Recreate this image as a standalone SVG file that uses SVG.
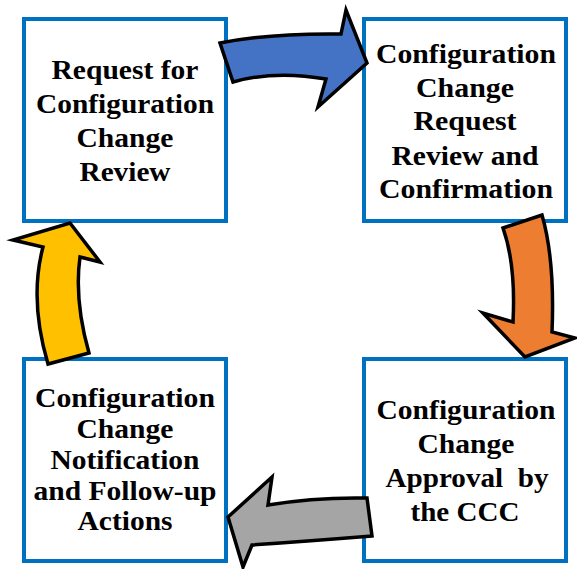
<svg xmlns="http://www.w3.org/2000/svg" width="577" height="569" viewBox="0 0 577 569">
  <style>
    .box { fill: #ffffff; stroke: #0070C0; stroke-width: 4; }
    .lbl { font-family: "Liberation Serif", "Times New Roman", serif; font-weight: bold; font-size: 27px; fill: #000000; text-anchor: middle; white-space: pre; }
    .arrow { stroke: #000000; stroke-width: 3.5; stroke-linejoin: miter; stroke-miterlimit: 8; }
  </style>
  <rect width="577" height="569" fill="#ffffff"/>

  <!-- step 1 -->
  <g id="request">
    <rect class="box" x="24" y="19" width="202" height="202"/>
    <text class="lbl" x="125" y="79" textLength="147" lengthAdjust="spacingAndGlyphs">Request for</text>
    <text class="lbl" x="125" y="113" textLength="178" lengthAdjust="spacingAndGlyphs">Configuration</text>
    <text class="lbl" x="125" y="147" textLength="97" lengthAdjust="spacingAndGlyphs">Change</text>
    <text class="lbl" x="125" y="181" textLength="91" lengthAdjust="spacingAndGlyphs">Review</text>
  </g>

  <!-- step 2 -->
  <g id="review">
    <rect class="box" x="364" y="19" width="202" height="202"/>
    <text class="lbl" x="466" y="63" textLength="180" lengthAdjust="spacingAndGlyphs">Configuration</text>
    <text class="lbl" x="465" y="97" textLength="98" lengthAdjust="spacingAndGlyphs">Change</text>
    <text class="lbl" x="465" y="130" textLength="103" lengthAdjust="spacingAndGlyphs">Request</text>
    <text class="lbl" x="465" y="165" textLength="147" lengthAdjust="spacingAndGlyphs">Review and</text>
    <text class="lbl" x="466" y="198" textLength="174" lengthAdjust="spacingAndGlyphs">Confirmation</text>
  </g>

  <!-- step 3 -->
  <g id="approval">
    <rect class="box" x="364" y="359" width="202" height="202"/>
    <text class="lbl" x="466" y="419" textLength="179" lengthAdjust="spacingAndGlyphs">Configuration</text>
    <text class="lbl" x="466" y="453" textLength="97" lengthAdjust="spacingAndGlyphs">Change</text>
    <text class="lbl" x="467" y="487" textLength="163" lengthAdjust="spacingAndGlyphs">Approval  by</text>
    <text class="lbl" x="465" y="521" textLength="109" lengthAdjust="spacingAndGlyphs">the CCC</text>
  </g>

  <!-- step 4 -->
  <g id="notification">
    <rect class="box" x="24" y="359" width="202" height="202"/>
    <text class="lbl" x="125" y="407" textLength="180" lengthAdjust="spacingAndGlyphs">Configuration</text>
    <text class="lbl" x="125" y="438" textLength="97" lengthAdjust="spacingAndGlyphs">Change</text>
    <text class="lbl" x="125" y="469" textLength="149" lengthAdjust="spacingAndGlyphs">Notification</text>
    <text class="lbl" x="125" y="500" textLength="183" lengthAdjust="spacingAndGlyphs">and Follow-up</text>
    <text class="lbl" x="125" y="530" textLength="95" lengthAdjust="spacingAndGlyphs">Actions</text>
  </g>

  <!-- curved block arrows linking the steps clockwise -->
  <g id="connectors">
    <path class="arrow" fill="#4472C4" d="M 220,43 Q 270,33 341,34 L 346,10 L 367,63 L 318,107 L 326,79 Q 275,70 233,82 Z"/>
    <path class="arrow" fill="#ED7D31" d="M 503,228 L 542,215 Q 555,260 552,332 L 575,338 L 525,357 L 483,313 L 513,322 Q 516,265 503,228 Z"/>
    <path class="arrow" fill="#A5A5A5" d="M 367,498 Q 315,497 268,505 L 272,477 L 228,517 L 243,567 L 252,545 Q 310,541 372,536 Z"/>
    <path class="arrow" fill="#FFC000" d="M 70,223 L 100,262 L 80,257 Q 74,300 89,353 L 48,364 Q 29,300 43,247 L 13,240 Z"/>
  </g>
</svg>
